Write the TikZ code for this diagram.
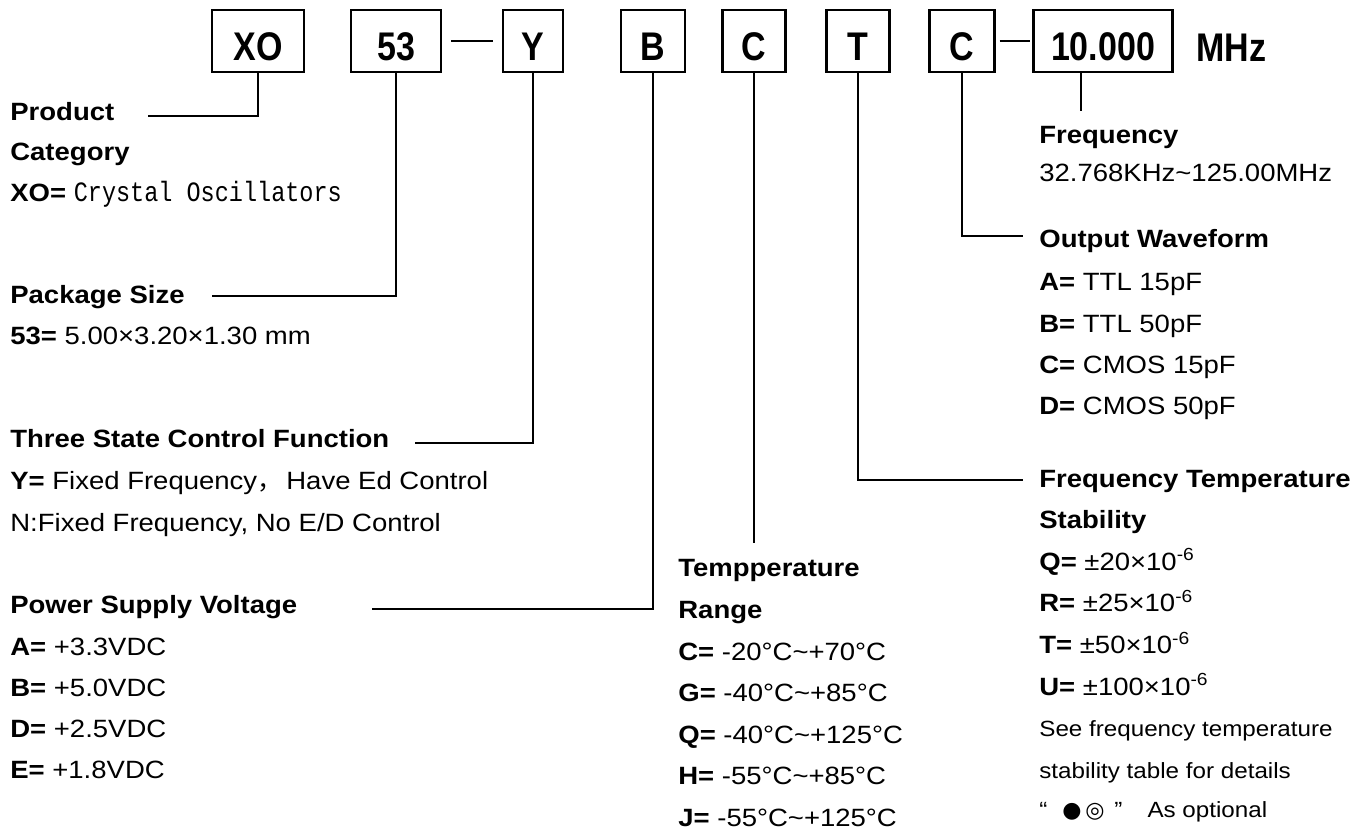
\documentclass[tikz,border=0pt]{standalone}
\usepackage{fontspec}
\setmainfont{Liberation Sans}[FakeStretch=1.1]
\newfontfamily\simfont{Liberation Mono}[FakeStretch=0.84]
\newfontfamily\boxfont{Liberation Sans}[FakeStretch=0.85]
\newfontfamily\cjk{Noto Sans CJK SC}
\newfontfamily\symfont{DejaVu Sans}
\usepackage{tikz}
\usetikzlibrary{positioning, calc}

\newcommand{\kv}[2]{\textbf{#1=} #2}
\newcommand{\lowered}[1]{\raisebox{-0.12cm}[\height][\depth]{#1}}

\begin{document}
\begin{tikzpicture}[
	x=0.02cm, y=-0.02cm,
	codetxt/.style={font=\boxfont\bfseries\fontsize{22.76}{26}\selectfont},
	codebox/.style={rectangle,draw,line width=1.2pt,minimum height=1.24cm,inner sep=0pt,codetxt},
	txt/.style={anchor=base west,inner sep=0pt,font=\fontsize{14.23}{17}\selectfont},
	note/.style={txt,font=\fontsize{12.52}{15}\selectfont},
	conn/.style={line width=1.2pt},
	tie/.style={line width=1.2pt}
]
\useasboundingbox (0,0) rectangle (1368,830);

% Code boxes
\node[codebox,minimum width=1.84cm] (xo) at (258,41) {\lowered{XO}};
\node[codebox,minimum width=1.8cm] (sz) at (396,41) {\lowered{53}};
\node[codebox,minimum width=1.2cm] (ctl) at (533,41) {\lowered{Y}};
\node[codebox,minimum width=1.28cm] (vdd) at (653,41) {\lowered{B}};
\node[codebox,minimum width=1.26cm] (trg) at (754,41) {\lowered{C}};
\node[codebox,minimum width=1.26cm] (stb) at (858,41) {\lowered{T}};
\node[codebox,minimum width=1.3cm] (wav) at (962,41) {\lowered{C}};
\node[codebox,minimum width=2.78cm] (frq) at (1103,41) {\lowered{10.000}};
\node[codetxt,anchor=base west,inner sep=0pt] (unit) at (1196,62) {MHz};

\draw[tie,shorten <=0.18cm,shorten >=0.18cm] (sz) -- (ctl);
\draw[tie,shorten <=0.08cm,shorten >=0.05cm] (wav) -- (frq);

% Product category
\node[txt] (prod) at (10,121) {\textbf{Product}};
\node[txt] (cat) at (10,161) {\textbf{Category}};
\node[txt] (xodef) at (10,202) {\textbf{XO=} {\simfont\fontsize{15.93}{18}\selectfont Crystal Oscillators}};

% Package size
\node[txt] (pkg) at (10,304) {\textbf{Package Size}};
\node[txt] (pkgdef) at (10,345) {\kv{53}{5.00×3.20×1.30 mm}};

% Three state control
\node[txt] (tsc) at (10,448) {\textbf{Three State Control Function}};
\node[txt] (tscY) at (10,490) {\kv{Y}{Fixed Frequency{\cjk ，}\,Have Ed Control}};
\node[txt] (tscN) at (10,531) {N:Fixed Frequency, No E/D Control};

% Power supply
\node[txt] (pwr) at (10,613) {\textbf{Power Supply Voltage}};
\foreach \key/\val [count=\i from 0] in {A/+3.3VDC, B/+5.0VDC, D/+2.5VDC, E/+1.8VDC}
	\node[txt] (pwr\key) at (10,{655+41*\i}) {\kv{\key}{\val}};

% Temperature range
\node[txt] (tmp) at (678,576) {\textbf{Tempperature}};
\node[txt] (rng) at (678,618) {\textbf{Range}};
\foreach \key/\val [count=\i from 0] in {C/-20°C\textasciitilde+70°C, G/-40°C\textasciitilde+85°C, Q/-40°C\textasciitilde+125°C, H/-55°C\textasciitilde+85°C, J/-55°C\textasciitilde+125°C}
	\node[txt] (tmp\key) at (678,{660+41.5*\i}) {\kv{\key}{\val}};

% Frequency
\node[txt] (fhead) at (1039,144) {\textbf{Frequency}};
\node[txt] (fdef) at (1039,182) {32.768KHz\textasciitilde125.00MHz};

% Output waveform
\node[txt] (ow) at (1039,248) {\textbf{Output Waveform}};
\foreach \key/\val [count=\i from 0] in {A/TTL 15pF, B/TTL 50pF, C/CMOS 15pF, D/CMOS 50pF}
	\node[txt] (ow\key) at (1039,{291+41.3*\i}) {\kv{\key}{\val}};

% Frequency temperature stability
\node[txt] (fts) at (1039,488) {\textbf{Frequency Temperature}};
\node[txt] (stab) at (1039,528) {\textbf{Stability}};
\foreach \key/\val [count=\i from 0] in {Q/20, R/25, T/50, U/100}
	\node[txt] (fts\key) at (1039,{570+41.7*\i}) {\kv{\key}{±\val×10\textsuperscript{-6}}};
\node[note] (n1) at (1039,736) {See frequency temperature};
\node[note] (n2) at (1039,778) {stability table for details};
\node[note] (n3) at (1039,817) {“\hspace{0.3cm}{\symfont ●\,◎}\hspace{0.2cm}”\hspace{0.5cm}As optional};

% Connectors
\coordinate (prodend) at (148,116);
\coordinate (pkgend) at (212,296);
\coordinate (tscend) at (415,443);
\coordinate (pwrend) at (372,609);
\coordinate (tmpend) at (754,543);
\coordinate (owend) at (1023,236);
\coordinate (ftsend) at (1023,480);

\draw[conn] (xo.south) |- (prodend);
\draw[conn] (sz.south) |- (pkgend);
\draw[conn] (ctl.south) |- (tscend);
\draw[conn] (vdd.south) |- (pwrend);
\draw[conn] (trg.south) -- (tmpend);
\draw[conn] (stb.south) |- (ftsend);
\draw[conn] (wav.south) |- (owend);
\draw[conn] ($(frq.south)+(-22,0)$) -- ++(0,38);

\end{tikzpicture}
\end{document}
